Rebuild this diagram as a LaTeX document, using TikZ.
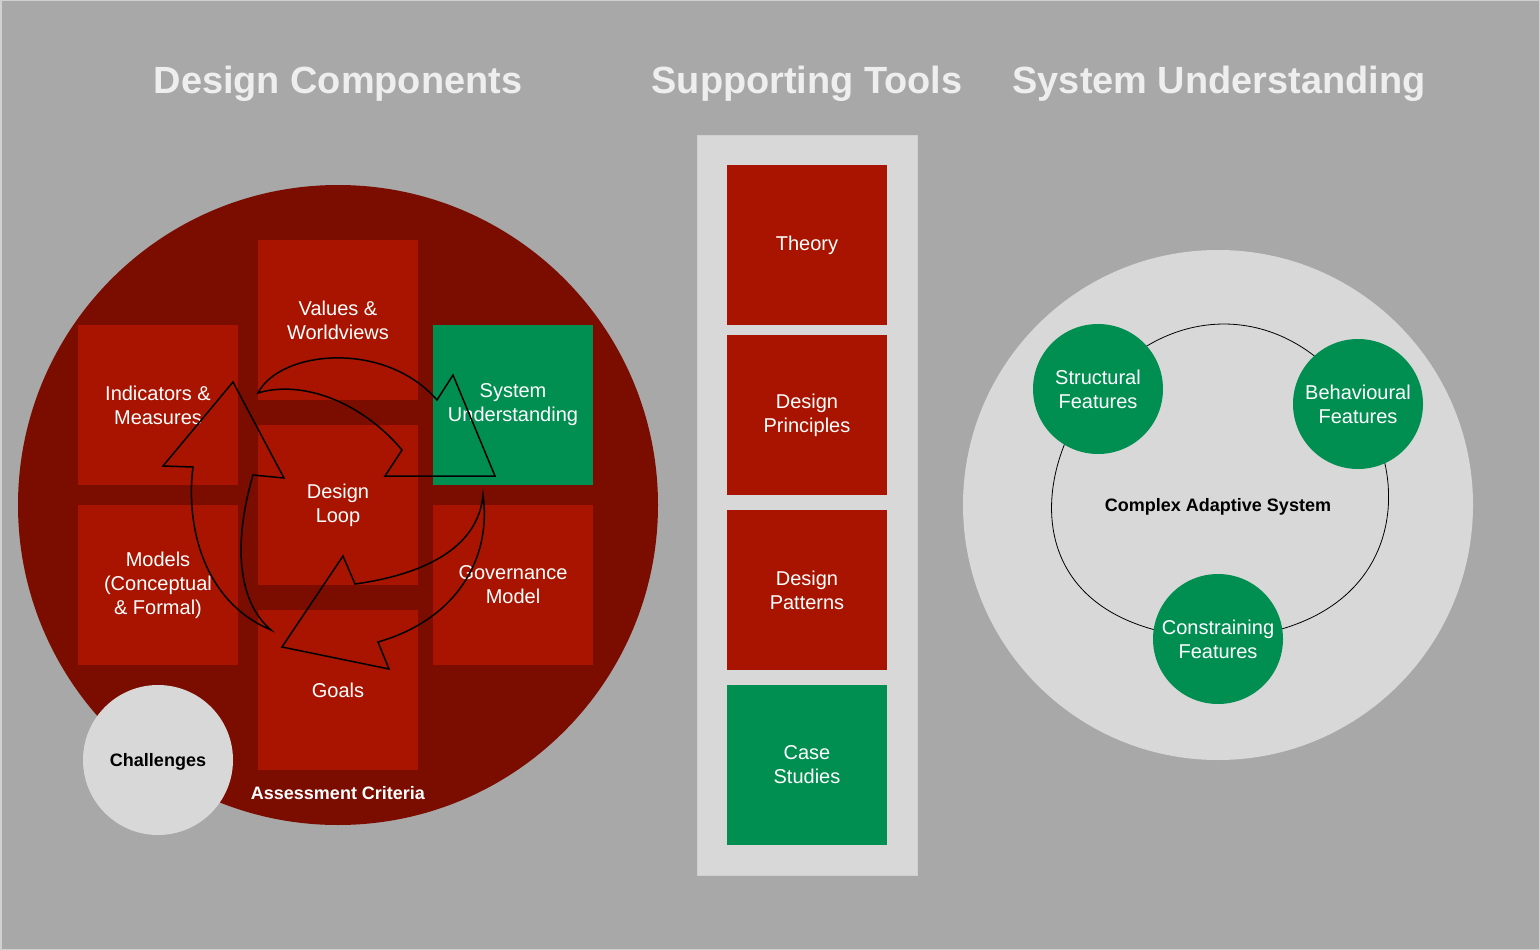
\documentclass[tikz,border=0pt]{standalone}
\usepackage{fontspec}
\setmainfont{Liberation Sans}
\definecolor{bggray}{HTML}{A8A8A8}
\definecolor{bgedge}{HTML}{D0D0D0}
\definecolor{darkred}{HTML}{7A0C00}
\definecolor{boxred}{HTML}{A81400}
\definecolor{boxgreen}{HTML}{008F51}
\definecolor{lightgray}{HTML}{D8D8D8}
\definecolor{titlegray}{HTML}{EEEEEE}
\begin{document}
\begin{tikzpicture}[x=1pt,y=-1pt,
  stepbox/.style={minimum width=160pt, minimum height=160pt, inner sep=0pt, fill=boxred, text=white,
    font=\fontsize{20}{24}\selectfont, align=center},
  greenbox/.style={stepbox, fill=boxgreen},
  titletext/.style={font=\bfseries\fontsize{37.9}{42}\selectfont, text=titlegray},
  feat/.style={circle, minimum size=130pt, inner sep=0pt, fill=boxgreen, text=white, align=center,
    font=\fontsize{20}{24}\selectfont},
  loopline/.style={draw=black, line width=1.5pt, line join=miter},
  cycleline/.style={draw=black, line width=0.8pt}]
\useasboundingbox (0,0) rectangle (1540,950);
\fill[bggray] (0,0) rectangle (1540,950);
\draw[bgedge, line width=1.5pt] (0.75,0.75) rectangle (1539.25,949.25);

% titles
\node[titletext] (t1) at (338,84) {Design Components};
\node[titletext] (t2) at (807,84) {Supporting Tools};
\node[titletext] (t3) at (1219,84) {System Understanding};

% design components
\node[circle, fill=darkred, minimum size=640pt, inner sep=0pt] (big) at (338,505) {};
\node[stepbox] (values) at (338,320) {Values \&\\Worldviews};
\node[stepbox] (indic) at (158,405) {Indicators \&\\Measures};
\node[greenbox] (sysu) at (513,405) {System\\Understanding};
\node[stepbox] (loop) at (338,505) {Design\\Loop};
\node[stepbox] (models) at (158,585) {Models\\(Conceptual\\\& Formal)};
\node[stepbox] (gov) at (513,585) {Governance\\Model};
\node[stepbox] (goals) at (338,690) {Goals};
\node[circle, fill=lightgray, minimum size=150pt, inner sep=0pt] (chal) at (158,760) {};
\node[font=\bfseries\fontsize{18}{22}\selectfont] (chaltext) at (158,762) {Challenges};
\node[font=\bfseries\fontsize{18}{22}\selectfont, text=white] (assess) at (338,793) {Assessment Criteria};

% loop arrows
\draw[loopline] (258,393) .. controls (280,350) and (385,340) .. (437,400)
  -- (453,375) -- (495,476) -- (385,476) -- (402,450)
  .. controls (360,400) and (300,380) .. cycle;
\draw[loopline] (483,495) .. controls (492,560) and (455,620) .. (378,642)
  -- (389,669) -- (282,647) -- (343,556) -- (355,584)
  .. controls (420,575) and (478,550) .. cycle;
\draw[loopline] (271,630) .. controls (200,600) and (186,520) .. (193,467)
  -- (163,466) -- (233,382) -- (284,478) -- (253,475)
  .. controls (234,540) and (236,600) .. cycle;

% supporting tools
\node[fill=lightgray, draw=bgedge, line width=1pt, minimum width=220pt, minimum height=740pt, inner sep=0pt] (panel) at (807,505) {};
\node[stepbox] (theory) at (807,245) {Theory};
\node[stepbox] (princ) at (807,415) {Design\\Principles};
\node[stepbox] (patt) at (807,590) {Design\\Patterns};
\node[greenbox] (cases) at (807,765) {Case\\Studies};

% system understanding
\node[circle, fill=lightgray, minimum size=510pt, inner sep=0pt] (cas) at (1218,505) {};
\coordinate (sc) at (1098,389);
\coordinate (bc) at (1358,404);
\coordinate (cc) at (1218,639);
\draw[cycleline] (sc) .. controls (1170,300) and (1290,300) .. (bc)
  .. controls (1415,480) and (1405,630) .. (cc)
  .. controls (1015,630) and (1028,470) .. (sc);
\node[feat] (struct) at (sc) {Structural\\Features};
\node[feat] (behav) at (bc) {Behavioural\\Features};
\node[feat] (constr) at (cc) {Constraining\\Features};
\node[font=\bfseries\fontsize{18}{22}\selectfont] (caslabel) at (1218,507) {Complex Adaptive System};
\end{tikzpicture}
\end{document}
